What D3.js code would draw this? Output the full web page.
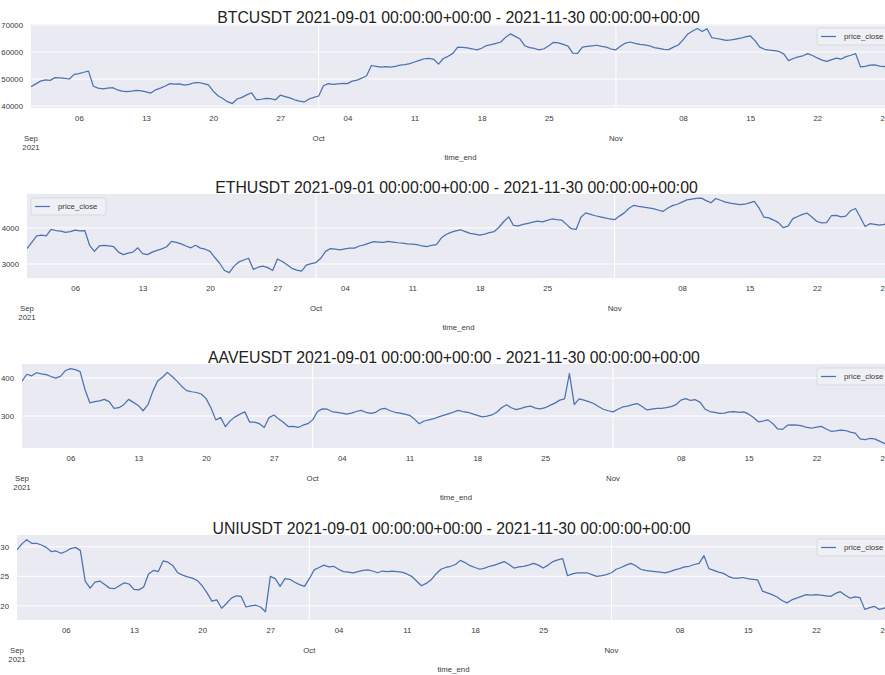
<!DOCTYPE html>
<html>
<head>
<meta charset="utf-8">
<script src="https://cdn.jsdelivr.net/npm/d3@7"></script>
<style>
  html, body { margin: 0; padding: 0; background: #fff; }
  svg { display: block; font-family: "Liberation Sans", Arial, sans-serif; }
  .tick-label { fill: #3a3a3a; font-size: 7.8px; }
  .title { fill: #222; font-size: 15.8px; }
</style>
</head>
<body>
<svg id="chart" width="885" height="675"></svg>
<script>
'use strict';

// one close price every 12 hours, starting 2021-09-01 00:00 UTC
const seriesStart = '2021-09-01T00:00:00Z';
const stepHours = 12;
const xEnd = '2021-11-30T00:00:00Z';

const symbols = ['BTCUSDT', 'ETHUSDT', 'AAVEUSDT', 'UNIUSDT'];

const btcClose = [
  47100, 48200, 49200, 49700, 49500, 50500, 50400, 50200, 50000, 51700,
  52000, 52500, 52900, 47300, 46600, 46300, 46600, 46800, 46000, 45500,
  45300, 45500, 45800, 45600, 45200, 44800, 46000, 46600, 47400, 48300,
  48100, 48200, 47700, 48000, 48600, 48700, 48300, 47800, 45500, 43800,
  42800, 41600, 40900, 42600, 43200, 44100, 44900, 42400, 42500, 42800,
  42700, 42300, 44000, 43500, 43000, 42300, 41800, 41500, 42600, 43200,
  43700, 47500, 48300, 48000, 48200, 48400, 48300, 49200, 49600, 50300,
  51200, 55000, 54700, 54400, 54600, 54400, 54700, 55100, 55300, 55700,
  56300, 56900, 57500, 57600, 57300, 55500, 57600, 58400, 59500, 61800,
  61700, 61500, 61200, 60800, 61400, 62400, 62700, 63200, 63700, 65500,
  66700, 65800, 64800, 62300, 61600, 61300, 60800, 61200, 62300, 63600,
  63400, 62800, 62200, 59600, 59500, 61800, 62100, 62300, 62500, 62100,
  61800, 61100, 60800, 62200, 63300, 63700, 63200, 62800, 62600, 62300,
  61600, 61300, 61000, 60900, 61800, 62600, 64500, 66700, 67800, 68700,
  67600, 68600, 65300, 65000, 64700, 64300, 64500, 64800, 65100, 65600,
  66000, 64200, 61800, 61000, 60700, 60500, 60200, 59300, 56800, 57600,
  58200, 58600, 59400, 58700, 57800, 57000, 56500, 57200, 57700, 57400,
  58300, 58800, 59400, 54500, 54700, 55100, 55200, 54800, 54600, 55300,
  56200
];

const ethClose = [
  3430, 3600, 3780, 3800, 3780, 3960, 3930, 3910, 3880, 3900,
  3940, 3920, 3930, 3520, 3350, 3500, 3520, 3500, 3480, 3330,
  3260, 3300, 3330, 3450, 3290, 3260, 3330, 3380, 3420, 3480,
  3630, 3600, 3560, 3500, 3450, 3520, 3440, 3410, 3350, 3180,
  3020, 2820, 2760, 2940, 3060, 3110, 3160, 2850, 2910, 2940,
  2900, 2820, 3140, 3070, 2980, 2880, 2830, 2800, 2970, 3010,
  3040, 3160, 3350, 3430, 3410, 3390, 3420, 3440, 3440, 3500,
  3530, 3580, 3620, 3610, 3600, 3630, 3610, 3590, 3580, 3560,
  3550, 3540, 3500, 3480, 3520, 3540, 3720, 3820, 3880, 3920,
  3950, 3900, 3850, 3830, 3800, 3830, 3870, 3900, 4020, 4180,
  4310, 4070, 4060, 4100, 4130, 4160, 4190, 4170, 4210, 4250,
  4230, 4220, 4100, 3980, 3960, 4300, 4420, 4380, 4340, 4310,
  4280, 4250, 4230, 4330, 4420, 4550, 4630, 4600, 4580, 4560,
  4540, 4500, 4460, 4550, 4620, 4660, 4720, 4780, 4800, 4820,
  4830, 4760, 4700, 4820, 4770, 4720, 4690, 4670, 4650, 4660,
  4700, 4740, 4550, 4300, 4280, 4220, 4150, 4010, 4050, 4260,
  4320, 4380, 4410, 4300, 4180, 4140, 4150, 4340, 4350, 4310,
  4330, 4480, 4540, 4300, 4040, 4120, 4100, 4080, 4100, 4180,
  4250
];

const aaveClose = [
  392, 410, 406, 414, 411, 409, 404, 400, 405, 420,
  425, 422, 417, 370, 335, 338, 340, 344, 338, 320,
  322, 330, 344, 336, 328, 314, 330, 365, 392, 402,
  415, 404, 392, 378, 367, 364, 362, 358, 346, 322,
  290, 296, 272, 288, 298, 305, 311, 284, 284, 280,
  270, 296, 303, 292, 283, 272, 273, 270, 276, 280,
  290, 312, 319, 318, 312, 310, 308, 305, 308, 312,
  315, 310, 307, 310, 318, 320, 314, 310, 308, 305,
  302, 292, 280, 287, 290, 293, 298, 302, 306, 310,
  315, 312, 310, 306, 302, 298, 300, 303, 310, 322,
  330, 322, 317, 320, 324, 326, 321, 319, 322, 328,
  334, 342, 345, 412, 330, 345, 342, 338, 333, 325,
  318, 314, 311, 318, 324, 326, 330, 333, 325, 316,
  318, 320, 320, 322, 325, 330, 342, 346, 341, 343,
  336, 318, 312, 310, 307, 308, 311, 312, 310, 311,
  305, 296, 285, 287, 290, 280, 266, 265, 276, 277,
  276, 274, 270, 268, 271, 273, 266, 260, 261, 263,
  262, 258, 255, 240, 238, 241, 240, 234, 228, 225,
  224
];

const uniClose = [
  29.5, 30.5, 31.2, 30.6, 30.6, 30.3, 29.9, 29.2, 29.3, 28.9,
  29.2, 29.7, 29.9, 29.4, 24.2, 23.0, 24.0, 24.2, 23.6, 23.0,
  22.9, 23.4, 23.9, 23.7, 22.8, 22.7, 23.2, 25.4, 26.0, 25.8,
  27.6, 27.4, 26.8, 25.6, 25.2, 24.9, 24.7, 24.3, 23.4, 22.2,
  20.8, 21.0, 19.6, 20.4, 21.3, 21.7, 21.6, 19.8, 20.0, 20.1,
  19.8, 19.0, 25.0, 24.6, 23.3, 24.6, 24.5, 24.0, 23.6, 23.3,
  24.6, 26.1, 26.5, 26.9, 26.6, 26.7, 26.2, 25.8, 25.7, 25.6,
  25.8, 26.0, 26.1, 25.9, 25.6, 25.9, 25.8, 25.9, 25.8, 25.7,
  25.4, 25.0, 24.2, 23.4, 23.8, 24.4, 25.4, 26.2, 26.5, 26.7,
  27.0, 27.7, 27.3, 26.8, 26.5, 26.2, 26.4, 26.7, 26.9, 27.2,
  27.5, 27.0, 26.4, 26.6, 26.7, 26.9, 27.2, 26.9, 26.4, 26.9,
  27.5, 27.8, 28.0, 25.1, 25.4, 25.6, 25.6, 25.6, 25.3, 25.0,
  25.1, 25.3, 25.6, 26.2, 26.5, 26.9, 27.2, 26.8, 26.2, 26.0,
  25.9, 25.8, 25.7, 25.6, 25.8, 26.1, 26.3, 26.6, 26.7, 27.0,
  27.2, 28.5, 26.3, 26.0, 25.7, 25.5, 25.0, 24.7, 24.7, 24.8,
  24.6, 24.5, 24.4, 22.5, 22.2, 21.9, 21.5, 20.9, 20.5, 21.0,
  21.3, 21.6, 21.9, 21.8, 21.9, 21.8, 21.7, 21.6, 22.1, 22.4,
  21.8, 21.3, 21.5, 21.4, 19.4, 19.7, 19.9, 19.4, 19.6, 20.1,
  20.3
];

// axis limits and ticks
const btcLim = [39260, 70370];
const ethLim = [2611, 4944];
const aaveLim = [216, 437];
const uniLim = [17.6, 32.0];
const btcTicks = [40000, 50000, 60000, 70000];
const ethTicks = [3000, 4000];
const aaveTicks = [300, 400];
const uniTicks = [20, 25, 30];

const minorTicks = ['2021-09-06', '2021-09-13', '2021-09-20', '2021-09-27', '2021-10-04',
  '2021-10-11', '2021-10-18', '2021-10-25', '2021-11-08', '2021-11-15', '2021-11-22', '2021-11-29'];
const majorTicks = ['2021-09-01', '2021-10-01', '2021-11-01'];
const majorLabels = [['Sep', '2021'], ['Oct'], ['Nov']];

const legendLabel = 'price_close';
const xLabel = 'time_end';

// --- layout ---
const panels = [
  {sym: symbols[0], values: btcClose, lim: btcLim, ticks: btcTicks, left: 31, top: 24, bottom: 108, legend: 'right'},
  {sym: symbols[1], values: ethClose, lim: ethLim, ticks: ethTicks, left: 27, top: 194, bottom: 278, legend: 'left'},
  {sym: symbols[2], values: aaveClose, lim: aaveLim, ticks: aaveTicks, left: 22, top: 364, bottom: 448, legend: 'right'},
  {sym: symbols[3], values: uniClose, lim: uniLim, ticks: uniTicks, left: 17, top: 535, bottom: 620, legend: 'right'}
];
const plotRight = 894;

const utc = s => new Date(s.length > 10 ? s : s + 'T00:00:00Z');
const t0 = utc(seriesStart);

const svg = d3.select('#chart');

panels.forEach((p, k) => {
  const data = p.values.map((v, i) => ({t: d3.utcHour.offset(t0, i * stepHours), v}));

  const x = d3.scaleUtc().domain([t0, utc(xEnd)]).range([p.left, plotRight]);
  const y = d3.scaleLinear().domain(p.lim).range([p.bottom, p.top]);

  const g = svg.append('g');

  g.append('rect')
    .attr('x', p.left).attr('y', p.top)
    .attr('width', plotRight - p.left).attr('height', p.bottom - p.top)
    .attr('fill', '#eaeaf2');

  // grid: horizontal at y ticks, vertical at month starts only
  g.selectAll('.hgrid').data(p.ticks).join('line')
    .attr('x1', p.left).attr('x2', plotRight)
    .attr('y1', d => y(d)).attr('y2', d => y(d))
    .attr('stroke', '#fff').attr('stroke-width', 1);

  g.selectAll('.vgrid').data(majorTicks.slice(1)).join('line')
    .attr('x1', d => x(utc(d))).attr('x2', d => x(utc(d)))
    .attr('y1', p.top).attr('y2', p.bottom)
    .attr('stroke', '#fff').attr('stroke-width', 1);

  const clipId = 'clip' + k;
  svg.append('clipPath').attr('id', clipId).append('rect')
    .attr('x', p.left).attr('y', p.top)
    .attr('width', plotRight - p.left).attr('height', p.bottom - p.top);

  const line = d3.line().x(d => x(d.t)).y(d => y(d.v));
  g.append('path')
    .datum(data)
    .attr('clip-path', `url(#${clipId})`)
    .attr('fill', 'none')
    .attr('stroke', '#4c72b0')
    .attr('stroke-width', 1.25)
    .attr('stroke-linejoin', 'round')
    .attr('d', line);

  // y axis
  const yAxis = d3.axisLeft(y).tickValues(p.ticks).tickSize(0).tickPadding(8).tickFormat(d3.format('d'));
  g.append('g')
    .attr('transform', `translate(${p.left},0)`)
    .call(yAxis)
    .call(a => a.select('.domain').remove())
    .call(a => a.selectAll('text').attr('class', 'tick-label').attr('font-family', null).attr('font-size', null));

  // x axis: weekly minor labels, month major labels
  const minorAxis = d3.axisBottom(x).tickValues(minorTicks.map(utc)).tickSize(0).tickPadding(7)
    .tickFormat(d3.utcFormat('%d'));
  g.append('g')
    .attr('transform', `translate(0,${p.bottom})`)
    .call(minorAxis)
    .call(a => a.select('.domain').remove())
    .call(a => a.selectAll('text').attr('class', 'tick-label').attr('font-family', null).attr('font-size', null));

  const major = g.selectAll('.major').data(majorTicks).join('text')
    .attr('class', 'tick-label')
    .attr('text-anchor', 'middle')
    .attr('x', d => x(utc(d)))
    .attr('y', p.bottom + 33);
  major.each(function(d, i) {
    majorLabels[i].forEach((s, j) => {
      d3.select(this).append('tspan')
        .attr('x', x(utc(d)))
        .attr('dy', j === 0 ? 0 : 9)
        .text(s);
    });
  });

  g.append('text')
    .attr('class', 'tick-label')
    .attr('text-anchor', 'middle')
    .attr('x', (p.left + plotRight) / 2 - 2)
    .attr('y', p.bottom + 52)
    .text(xLabel);

  g.append('text')
    .attr('class', 'title')
    .attr('text-anchor', 'middle')
    .attr('x', (p.left + plotRight) / 2 - 4)
    .attr('y', p.top - 1)
    .text(`${p.sym} 2021-09-01 00:00:00+00:00 - 2021-11-30 00:00:00+00:00`);

  // legend
  const lx = p.legend === 'right' ? plotRight - 77 : p.left + 4;
  const ly = p.top + 4;
  const lg = g.append('g').attr('transform', `translate(${lx},${ly})`);
  lg.append('rect')
    .attr('width', 75).attr('height', 17).attr('rx', 2)
    .attr('fill', '#eef0f5').attr('stroke', '#d4d4dc').attr('stroke-width', 0.8);
  lg.append('line')
    .attr('x1', 4).attr('x2', 19).attr('y1', 8.5).attr('y2', 8.5)
    .attr('stroke', '#4c72b0').attr('stroke-width', 1.25);
  lg.append('text')
    .attr('class', 'tick-label')
    .attr('x', 27).attr('y', 11.3)
    .text(legendLabel);
});
</script>
</body>
</html>
